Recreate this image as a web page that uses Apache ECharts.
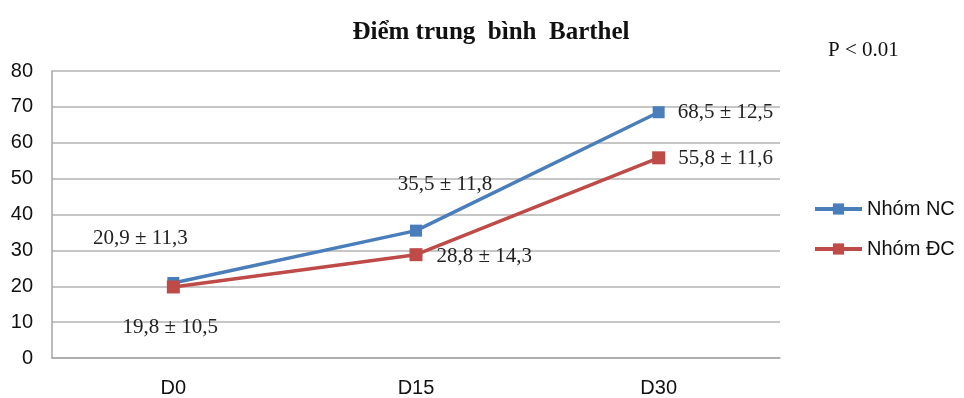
<!DOCTYPE html>
<html>
<head>
<meta charset="utf-8">
<script src="https://cdn.jsdelivr.net/npm/echarts@6/dist/echarts.min.js"></script>
<style>
  html, body { margin: 0; padding: 0; background: #fff; }
  #chart { width: 964px; height: 398px; }
</style>
</head>
<body>
<div id="chart"></div>
<script>
// Barthel scores over follow-up days
const categories = ['D0', 'D15', 'D30'];
const seriesNames = ['Nhóm NC', 'Nhóm ĐC'];
const meanNC = [20.9, 35.5, 68.5];
const sdNC = [11.3, 11.8, 12.5];
const meanDC = [19.8, 28.8, 55.8];
const sdDC = [10.5, 14.3, 11.6];
const yTicks = [0, 10, 20, 30, 40, 50, 60, 70, 80];

const fmt = v => v.toFixed(1).replace('.', ',');

// label placement for each point (NC then ĐC)
const labelPlacementNC = [
  { position: 'top', offset: [-33, -23] },
  { position: 'top', offset: [29, -25] },
  { position: 'right', offset: [8, 0] }
];
const labelPlacementDC = [
  { position: 'bottom', offset: [-3, 19] },
  { position: 'right', offset: [9, 2] },
  { position: 'right', offset: [8, 1] }
];

function buildData(means, sds, placement) {
  return means.map((m, i) => ({
    value: m,
    label: {
      show: true,
      position: placement[i].position,
      offset: placement[i].offset,
      formatter: fmt(m) + ' ± ' + fmt(sds[i])
    }
  }));
}

const labelStyle = {
  fontFamily: '"Liberation Serif", "DejaVu Serif", serif',
  fontSize: 21,
  color: '#222'
};

const chart = echarts.init(document.getElementById('chart'), null, { renderer: 'canvas' });
chart.setOption({
  animation: false,
  backgroundColor: '#fff',
  title: [{
    text: 'Điểm trung  bình  Barthel',
    left: 486,
    textAlign: 'center',
    top: 15,
    textStyle: {
      fontFamily: '"Liberation Serif", serif',
      fontWeight: 'bold',
      fontSize: 25,
      color: '#111'
    }
  }, {
    text: 'P < 0.01',
    left: 823,
    top: 35,
    textStyle: {
      fontFamily: '"Liberation Serif", serif',
      fontWeight: 'normal',
      fontSize: 21,
      color: '#111'
    }
  }],
  legend: {
    orient: 'vertical',
    left: 808,
    top: 194,
    itemWidth: 47,
    itemHeight: 14,
    itemGap: 20,
    lineStyle: { width: 4 },
    textStyle: {
      fontFamily: '"Liberation Sans", Arial, sans-serif',
      fontSize: 20,
      color: '#111'
    },
    data: seriesNames
  },
  grid: { left: 52, right: 184, top: 71, bottom: 40 },
  xAxis: {
    type: 'category',
    data: categories,
    boundaryGap: true,
    axisLine: { lineStyle: { color: '#a6a6a6', width: 1.5 } },
    axisTick: { show: false },
    axisLabel: {
      margin: 20,
      fontFamily: '"Liberation Sans", Arial, sans-serif',
      fontSize: 20,
      color: '#111'
    }
  },
  yAxis: {
    type: 'value',
    min: yTicks[0],
    max: yTicks[yTicks.length - 1],
    interval: 10,
    axisLine: { show: true, lineStyle: { color: '#a6a6a6', width: 1.5 } },
    axisTick: { show: false },
    splitLine: { lineStyle: { color: '#b3b3b3', width: 1.5 } },
    axisLabel: {
      margin: 19,
      fontFamily: '"Liberation Sans", Arial, sans-serif',
      fontSize: 20,
      color: '#111'
    }
  },
  series: [{
    name: seriesNames[0],
    type: 'line',
    data: buildData(meanNC, sdNC, labelPlacementNC),
    symbol: 'rect',
    symbolSize: 12,
    lineStyle: { color: '#4a7ebb', width: 3.5 },
    itemStyle: { color: '#4a7ebb' },
    label: labelStyle,
    z: 3
  }, {
    name: seriesNames[1],
    type: 'line',
    data: buildData(meanDC, sdDC, labelPlacementDC),
    symbol: 'rect',
    symbolSize: 13,
    lineStyle: { color: '#be4b48', width: 3.5 },
    itemStyle: { color: '#be4b48' },
    label: labelStyle,
    z: 4
  }]
});
</script>
</body>
</html>
